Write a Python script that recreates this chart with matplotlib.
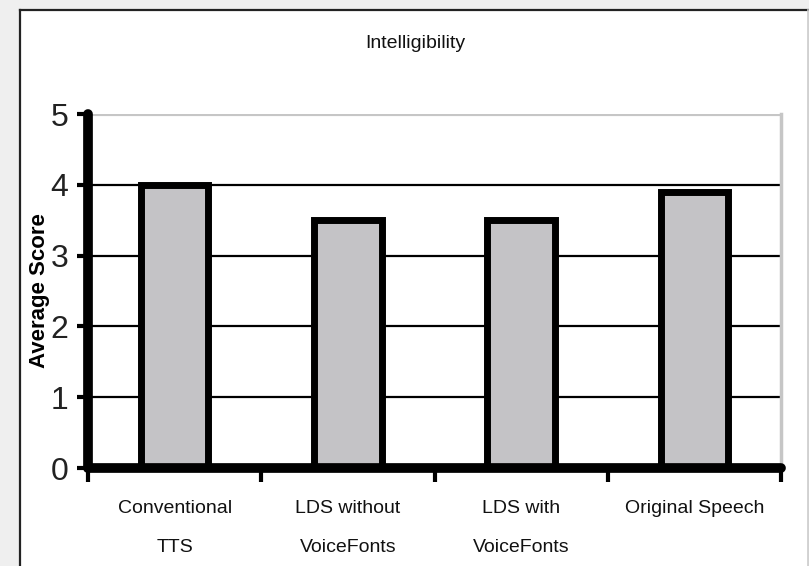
import matplotlib.pyplot as plt
from matplotlib.patches import Rectangle
from matplotlib.lines import Line2D

plt.rcParams['font.family'] = ['Liberation Sans', 'DejaVu Sans']

# Mean intelligibility rating per system
categories = ['Conventional\nTTS', 'LDS without\nVoiceFonts', 'LDS with\nVoiceFonts', 'Original Speech']
scores = [4.0, 3.5, 3.5, 3.9]
yticks = [0, 1, 2, 3, 4, 5]

fig = plt.figure(figsize=(8.09, 5.66), dpi=100)
fig.patch.set_facecolor('#efefef')

# white chart panel with its frame
fig.patches.append(Rectangle((20 / 809, 0), 788 / 809, 1 - 10 / 566,
                             transform=fig.transFigure, facecolor='white',
                             edgecolor='none', zorder=-5))
fig.lines.append(Line2D([20 / 809, 808 / 809], [1 - 10 / 566] * 2,
                        transform=fig.transFigure, color='#222222', lw=1.6, zorder=-4))
fig.lines.append(Line2D([20 / 809] * 2, [0, 1 - 10 / 566],
                        transform=fig.transFigure, color='#222222', lw=1.6, zorder=-4))
fig.lines.append(Line2D([807.5 / 809] * 2, [0, 1 - 10 / 566],
                        transform=fig.transFigure, color='#cccccc', lw=1.2, zorder=-4))

ax = fig.add_axes([88 / 809, 1 - 468 / 566, 693 / 809, 354 / 566])
ax.set_facecolor('none')

x = list(range(len(categories)))
ax.bar(x, scores, width=0.39, color='#c4c3c6', edgecolor='black',
       linewidth=5, zorder=3)

ax.set_xlim(-0.5, len(categories) - 0.5)
ax.set_ylim(0, 5)

# horizontal grid: black inside, grey at the top
for v in yticks[1:-1]:
    ax.axhline(v, color='black', lw=1.6, zorder=1)
ax.axhline(5, color='#c6c6c6', lw=3, zorder=1)

ax.spines['top'].set_visible(False)
ax.spines['right'].set_color('#c6c6c6')
ax.spines['right'].set_linewidth(2.5)
for side in ['left', 'bottom']:
    ax.spines[side].set_linewidth(7)
    ax.spines[side].set_capstyle('round')
    ax.spines[side].set_zorder(4)

ax.set_yticks(yticks)
ax.set_yticklabels([str(v) for v in yticks], fontsize=23, color='#222222')
ax.tick_params(axis='y', length=8, width=3, pad=6, direction='out')

ax.set_xticks(x)
ax.set_xticklabels(categories, fontsize=14, linespacing=2.7, color='#111111')
ax.tick_params(axis='x', which='major', length=0, pad=23)
ax.set_xticks([i - 0.5 for i in range(len(categories) + 1)], minor=True)
ax.tick_params(axis='x', which='minor', length=10, width=3, direction='out')

ax.set_ylabel('Average Score', fontsize=16, fontweight='bold')
ax.yaxis.set_label_coords(-0.055, 0.5)

fig.text(415 / 809, 1 - 44 / 566, 'Intelligibility', fontsize=14,
         ha='center', va='center', color='#111111')

fig.savefig('out.png', dpi=100, facecolor=fig.get_facecolor())
